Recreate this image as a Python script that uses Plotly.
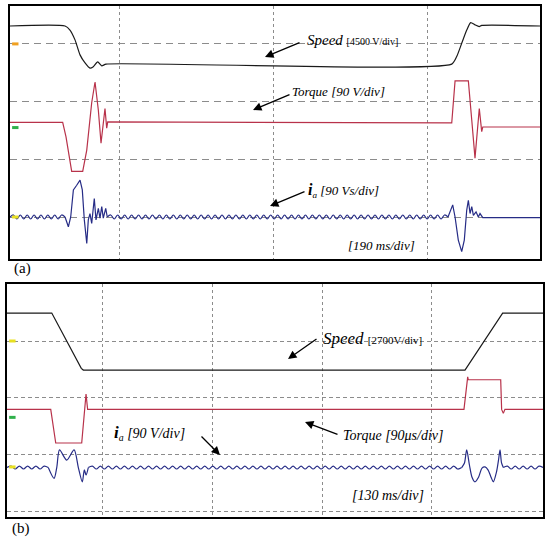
import plotly.graph_objects as go

# ---------------- Panel (a): time in ms (190 ms/div), values in divisions ----------------
speed_a_t = [55.5, 123.4, 129.5, 135.7, 141.9, 148.1, 154.2, 157.9, 163.7, 168.7, 174.0,
             600.5, 606.6, 612.8, 619.0, 623.9, 629.2, 634.5, 637.5, 709.4]
speed_a_v = [3.31, 3.31, 3.24, 3.07, 2.81, 2.67, 2.58, 2.60, 2.69, 2.62, 2.65,
             2.65, 2.78, 3.01, 3.24, 3.37, 3.33, 3.30, 3.32, 3.31]

torque_a_t = [55.5, 120.5, 124.6, 131.6, 145.2, 150.2, 156.3, 160.4, 164.5, 167.8, 172.7, 174.8, 176.1,
              600.5, 604.6, 621.0, 625.2, 629.2, 634.5, 637.5, 638.8, 709.4]
torque_a_v = [1.64, 1.64, 1.39, 0.79, 0.79, 1.16, 1.98, 2.34, 1.85, 1.28, 1.88, 1.54, 1.65,
              1.63, 2.36, 2.36, 1.68, 1.02, 1.88, 1.48, 1.56, 1.56]

ia_a_t1 = [123.4, 127.5, 130.4, 133.7, 137.8, 141.9, 144.7, 147.2, 150.2, 152.1, 154.2, 156.3,
           159.5, 161.6, 164.5, 166.5, 168.7, 170.6, 173.6, 175.5]
ia_a_v1 = [0.0, -0.17, 0.0, 0.47, 0.55, 0.64, 0.47, -0.05, -0.46, -0.05, 0.06, -0.11,
           0.32, -0.05, 0.15, -0.02, 0.18, -0.02, 0.15, 0.0]
ia_a_t2 = [595.9, 601.7, 604.6, 608.6, 612.8, 616.0, 619.0, 621.0, 623.1, 625.2, 627.2,
           630.5, 633.3, 635.4, 638.8, 709.4]
ia_a_v2 = [0.0, 0.21, 0.0, -0.40, -0.60, -0.40, 0.12, 0.29, 0.06, 0.18, 0.03,
           0.09, 0.0, 0.06, -0.01, -0.01]
ia_a_ripple_segments = [(55.5, 123.4), (175.5, 595.9)]
ia_a_ripple_period = 8.6   # ms
ia_a_ripple_amp = 0.035    # div
ia_a_base = 0.0

# ---------------- Panel (b): time in ms (130 ms/div), values in divisions ----------------
speed_b_t = [17.7, 70.6, 105.5, 107.9, 559.0, 603.5, 651.2]
speed_b_v = [3.49, 3.49, 2.52, 2.49, 2.49, 3.49, 3.49]

torque_b_t = [17.7, 69.4, 75.3, 106.0, 111.1, 113.0, 557.8, 561.0, 562.2, 562.9,
              601.2, 602.3, 604.3, 606.2, 651.2]
torque_b_v = [1.80, 1.80, 1.21, 1.21, 2.07, 1.80, 1.80, 2.29, 2.37, 2.32,
              2.32, 1.80, 1.73, 1.80, 1.80]

ia_b_t1 = [66.5, 73.3, 76.5, 79.8, 88.3, 97.0, 102.0, 106.7, 109.1, 111.1, 113.8]
ia_b_v1 = [0.78, 0.59, 0.78, 1.09, 0.91, 1.09, 0.78, 0.53, 0.74, 0.65, 0.78]
ia_b_t2 = [555.1, 558.4, 561.0, 564.3, 567.3, 570.8, 575.0, 579.1, 582.7, 586.2, 589.8,
           592.5, 596.2, 598.6, 600.4, 602.2, 604.3]
ia_b_v2 = [0.78, 0.86, 1.09, 0.82, 0.61, 0.53, 0.61, 0.77, 0.79, 0.74, 0.61,
           0.53, 0.70, 0.91, 1.09, 0.86, 0.78]
ia_b_ripple_segments = [(17.7, 66.5), (113.8, 555.1), (604.3, 651.2)]
ia_b_ripple_period = 9.45
ia_b_ripple_amp = 0.026
ia_b_base = 0.78

# channel ground markers (div)
markers_a = [(3.0, "#f0a020"), (1.55, "#2fb04a"), (0.0, "#e8e020")]
markers_b = [(3.0, "#e8e020"), (1.66, "#2fb04a"), (0.79, "#e8e020")]

BLACK = "#1a1a1a"
RED = "#b8324a"
BLUE = "#262c86"
FONT = "Liberation Serif, Times New Roman, serif"


def ripple_points(seg, period, amp, base):
    t0, t1 = seg
    n = max(2, round((t1 - t0) / (period / 2)))
    ts, vs = [], []
    for k in range(n + 1):
        ts.append(t0 + k * (t1 - t0) / n)
        if k == 0 or k == n:
            vs.append(base)
        else:
            vs.append(base + (amp if k % 2 else -amp))
    return ts, vs


fig = go.Figure()

# panel a traces
fig.add_trace(go.Scatter(x=speed_a_t, y=speed_a_v, mode="lines", line=dict(color=BLACK, width=1.2, shape="spline", smoothing=0.6), xaxis="x", yaxis="y"))
fig.add_trace(go.Scatter(x=torque_a_t, y=torque_a_v, mode="lines", line=dict(color=RED, width=1.2), xaxis="x", yaxis="y"))
for seg in ia_a_ripple_segments:
    ts, vs = ripple_points(seg, ia_a_ripple_period, ia_a_ripple_amp, ia_a_base)
    fig.add_trace(go.Scatter(x=ts, y=vs, mode="lines", line=dict(color=BLUE, width=1.2, shape="spline"), xaxis="x", yaxis="y"))
fig.add_trace(go.Scatter(x=ia_a_t1, y=ia_a_v1, mode="lines", line=dict(color=BLUE, width=1.2), xaxis="x", yaxis="y"))
fig.add_trace(go.Scatter(x=ia_a_t2, y=ia_a_v2, mode="lines", line=dict(color=BLUE, width=1.2), xaxis="x", yaxis="y"))

# panel b traces
fig.add_trace(go.Scatter(x=speed_b_t, y=speed_b_v, mode="lines", line=dict(color=BLACK, width=1.2), xaxis="x2", yaxis="y2"))
fig.add_trace(go.Scatter(x=torque_b_t, y=torque_b_v, mode="lines", line=dict(color=RED, width=1.2), xaxis="x2", yaxis="y2"))
for seg in ia_b_ripple_segments:
    ts, vs = ripple_points(seg, ia_b_ripple_period, ia_b_ripple_amp, ia_b_base)
    fig.add_trace(go.Scatter(x=ts, y=vs, mode="lines", line=dict(color=BLUE, width=1.2, shape="spline"), xaxis="x2", yaxis="y2"))
fig.add_trace(go.Scatter(x=ia_b_t1, y=ia_b_v1, mode="lines", line=dict(color=BLUE, width=1.2, shape="spline", smoothing=0.8), xaxis="x2", yaxis="y2"))
fig.add_trace(go.Scatter(x=ia_b_t2, y=ia_b_v2, mode="lines", line=dict(color=BLUE, width=1.2, shape="spline", smoothing=0.8), xaxis="x2", yaxis="y2"))

W, H = 550, 543


def px(x):
    return x / W


def py(y):
    return 1 - y / H


axis_common = dict(showticklabels=False, ticks="", zeroline=False, showline=True, linecolor="black",
                   linewidth=2, mirror=True, showgrid=True, gridcolor="#8c8c8c", gridwidth=1)

fig.update_layout(
    width=W, height=H, margin=dict(l=0, r=0, t=0, b=0),
    paper_bgcolor="white", plot_bgcolor="white", showlegend=False,
    xaxis=dict(domain=[px(10), px(540)], range=[55.5, 709.4], tickvals=[190, 380, 570],
               griddash="3px,3px", anchor="y", **axis_common),
    yaxis=dict(domain=[py(259), py(6)], range=[-0.728, 3.657], tickvals=[0, 1, 2, 3],
               griddash="7px,5px", anchor="x", **axis_common),
    xaxis2=dict(domain=[px(7), px(543)], range=[17.7, 651.2], tickvals=[130, 260, 390, 520],
                griddash="3px,3px", anchor="y2", **axis_common),
    yaxis2=dict(domain=[py(517), py(284)], range=[-0.088, 4.0], tickvals=[0, 1, 2, 3, 4],
                griddash="4px,3px", anchor="x2", **axis_common),
)

shapes = []
for lvl, col in markers_a:
    shapes.append(dict(type="line", xref="x domain", yref="y", x0=0.004, x1=0.016, y0=lvl, y1=lvl,
                       line=dict(color=col, width=3)))
for lvl, col in markers_b:
    shapes.append(dict(type="line", xref="x2 domain", yref="y2", x0=0.004, x1=0.016, y0=lvl, y1=lvl,
                       line=dict(color=col, width=3)))
fig.update_layout(shapes=shapes)

ann = []


def text(x, y, s, size):
    ann.append(dict(x=px(x), y=py(y), xref="paper", yref="paper", text=s, showarrow=False,
                    xanchor="left", yanchor="middle", font=dict(family=FONT, size=size, color="black")))


def arrow(tipx, tipy, tailx, taily):
    ann.append(dict(x=px(tipx), y=py(tipy), xref="paper", yref="paper", text="", showarrow=True,
                    ax=tailx - tipx, ay=taily - tipy, arrowhead=2, arrowsize=1.3, arrowwidth=1.3,
                    arrowcolor="black"))


# panel a labels
text(305, 40, "<i>Speed</i> <span style='font-size:10px'>[4500 V/div]</span>", 15)
arrow(265, 57, 301, 42)
text(290, 91, "<i>Torque [90 V/div]</i>", 13)
arrow(253, 110, 291, 94)
text(306, 190, "<b><i><span style='font-size:16px'>i</span></i></b><sub><i>a</i></sub><i> [90 Vs/div]</i>", 13)
arrow(270, 206, 306, 191)
text(346, 245, "<i>[190 ms/div]</i>", 13)
text(12, 268, "(a)", 15)

# panel b labels
text(321, 338, "<i>Speed</i> <span style='font-size:11px'>[2700V/div]</span>", 17)
arrow(288, 359, 318, 338)
text(341, 435, "<i>Torque [90μs/div]</i>", 14)
arrow(305, 422, 339, 435)
text(112, 433, "<b><i><span style='font-size:17px'>i</span></i></b><sub><i>a</i></sub><i> [90 V/div]</i>", 14)
arrow(220, 455, 200, 435)
text(350, 495, "<i>[130 ms/div]</i>", 14)
text(10, 528, "(b)", 15)

fig.update_layout(annotations=ann)

fig.write_html("out.html",
               config={"displayModeBar": False},
               post_script="document.body.style.margin='0';document.body.style.padding='0';"
                           "document.documentElement.style.overflow='hidden';")
